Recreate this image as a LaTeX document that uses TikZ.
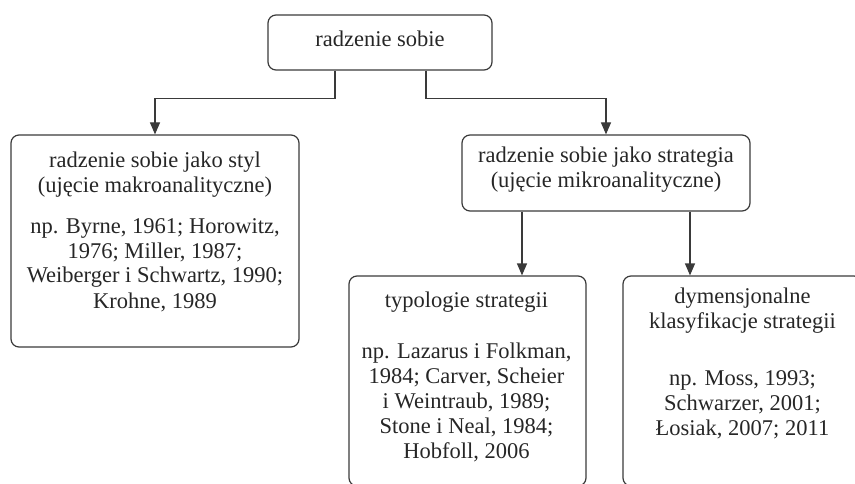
\documentclass[tikz,border=0pt]{standalone}
\usepackage{fontspec}
\setmainfont{Liberation Serif}
\usetikzlibrary{arrows.meta}
\definecolor{ink}{HTML}{262626}
\definecolor{rule}{HTML}{3A3A3A}
\begin{document}
\begin{tikzpicture}[x=1pt,y=-1pt,
  box/.style={draw=rule, line width=1.2pt, rounded corners=8pt, inner sep=0pt},
  % texts are placed by the baseline of their last line
  txt/.style={text=ink, align=center, inner sep=0pt, anchor=base,
              font=\fontsize{22.5}{25}\selectfont},
  arr/.style={draw=rule, line width=1.2pt, -{Triangle[length=12pt,width=10pt]}},
]
\useasboundingbox (0,0) rectangle (855,484);
\clip (0,0) rectangle (855,484);

% boxes
\node[box, minimum width=224pt, minimum height=55pt]  (top)  at (380,42.5) {};
\node[box, minimum width=288pt, minimum height=212pt] (left) at (155,241) {};
\node[box, minimum width=288pt, minimum height=76pt]  (mid)  at (606,173) {};
\node[box, minimum width=237pt, minimum height=210pt] (typ)  at (467.5,381) {};
\node[box, minimum width=239pt, minimum height=210pt] (dim)  at (742.5,381) {};

% texts
\node[txt] (topT) at (380,47) {radzenie sobie};
\node[txt] (leftT) at (155,308) {radzenie sobie jako styl\\(ujęcie makroanalityczne)\\[16pt]
  np. Byrne, 1961; Horowitz,\\1976; Miller, 1987;\\Weiberger i Schwartz, 1990;\\Krohne, 1989};
\node[txt] (midT) at (606,188) {radzenie sobie jako strategia\\(ujęcie mikroanalityczne)};
\node[txt] (typT) at (466.5,458) {typologie strategii\\[26pt]np. Lazarus i Folkman,\\
  1984; Carver, Scheier\\i Weintraub, 1989;\\Stone i Neal, 1984;\\Hobfoll, 2006};
\node[txt] (dimT) at (742.5,435) {dymensjonalne\\klasyfikacje strategii\\[32pt]
  np. Moss, 1993;\\Schwarzer, 2001;\\Łosiak, 2007; 2011};

% connectors
\coordinate (t1) at ([xshift=-45pt]top.south);
\coordinate (t2) at ([xshift=46pt]top.south);
\coordinate (m1) at ([xshift=-84pt]mid.south);
\coordinate (m2) at ([xshift=84pt]mid.south);
\draw[arr] (t1) -- ++(0,28) -| (left.north);
\draw[arr] (t2) -- ++(0,28) -| (mid.north);
\draw[arr] (m1) -- (m1 |- typ.north);
\draw[arr] (m2) -- (m2 |- dim.north);
\end{tikzpicture}
\end{document}
